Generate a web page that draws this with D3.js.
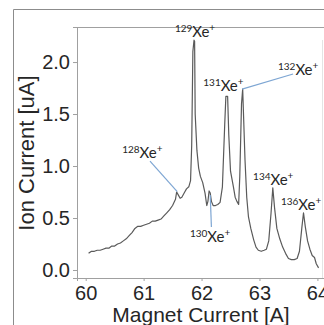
<!DOCTYPE html>
<html>
<head>
<meta charset="utf-8">
<script src="https://cdn.jsdelivr.net/npm/d3@7"></script>
<style>
  body { margin: 0; background: #fff; }
  svg { display: block; }
</style>
</head>
<body>
<svg id="chart" width="324" height="325"></svg>
<script>
// magnet current [A] and ion current [uA]
const current = [60.05, 60.10, 60.15, 60.20, 60.25, 60.30, 60.35, 60.40, 60.45, 60.50,
  60.55, 60.60, 60.65, 60.70, 60.75, 60.80, 60.85, 60.90, 60.95, 61.00,
  61.05, 61.10, 61.15, 61.20, 61.25, 61.30, 61.35, 61.40, 61.45, 61.50,
  61.55, 61.57, 61.60, 61.63, 61.66, 61.70, 61.74, 61.78, 61.81, 61.83,
  61.85, 61.87, 61.88, 61.89, 61.92, 61.95, 61.98, 62.02, 62.06, 62.09,
  62.11, 62.13, 62.15, 62.17, 62.20, 62.24, 62.28, 62.32, 62.36, 62.40,
  62.42, 62.45, 62.47, 62.50, 62.55, 62.58, 62.61, 62.64, 62.66, 62.69,
  62.71, 62.73, 62.75, 62.78, 62.81, 62.85, 62.90, 62.94, 62.98, 63.03,
  63.08, 63.12, 63.16, 63.20, 63.23, 63.26, 63.30, 63.35, 63.40, 63.45,
  63.50, 63.55, 63.60, 63.65, 63.69, 63.73, 63.76, 63.79, 63.83, 63.87,
  63.91, 63.95, 63.98, 64.02];
const ion = [0.16, 0.18, 0.18, 0.19, 0.19, 0.20, 0.21, 0.21, 0.23, 0.23,
  0.25, 0.26, 0.28, 0.30, 0.33, 0.36, 0.40, 0.42, 0.42, 0.43,
  0.44, 0.45, 0.47, 0.47, 0.48, 0.49, 0.52, 0.55, 0.58, 0.62,
  0.68, 0.75, 0.72, 0.69, 0.70, 0.74, 0.78, 0.80, 0.86, 1.20,
  2.10, 2.21, 2.20, 1.50, 1.15, 0.98, 0.90, 0.84, 0.74, 0.62,
  0.66, 0.76, 0.74, 0.66, 0.62, 0.62, 0.63, 0.65, 0.80, 1.40,
  1.67, 1.67, 1.30, 0.95, 0.80, 0.70, 0.66, 0.63, 0.90, 1.60,
  1.74, 1.40, 1.06, 0.70, 0.51, 0.40, 0.29, 0.22, 0.19, 0.18,
  0.19, 0.20, 0.28, 0.55, 0.79, 0.60, 0.40, 0.30, 0.22, 0.16,
  0.11, 0.10, 0.10, 0.11, 0.18, 0.40, 0.55, 0.42, 0.28, 0.20,
  0.14, 0.12, 0.06, 0.02];

const xTicks = [60, 61, 62, 63, 64];
const yTicks = [0, 0.5, 1.0, 1.5, 2.0];

// isotope labels: mass, label anchor (A, uA)
const isoMass = ['129', '131', '132', '128', '130', '134', '136'];
const isoX = [61.54, 62.03, 63.32, 60.63, 61.80, 62.89, 63.37];
const isoY = [2.24, 1.72, 1.875, 1.077, 0.269, 0.817, 0.577];

// pointer lines from label to peak
const pointers = [
  [[61.11, 1.048], [61.58, 0.753]],
  [[62.17, 0.413], [62.15, 0.72]],
  [[62.70, 1.74], [63.58, 1.885]]
];

const svg = d3.select('#chart');

const x = d3.scaleLinear().domain([59.85, 64.2]).range([77, 329]);
const y = d3.scaleLinear().domain([-0.077, 2.337]).range([278, 27]);

// outer figure frame
svg.append('path')
  .attr('d', 'M13.5,330 V9.5 H330')
  .attr('fill', 'none')
  .attr('stroke', '#8c8c8c')
  .attr('stroke-width', 1);

// plot box top + faint right edge
svg.append('line')
  .attr('x1', 77).attr('x2', 330).attr('y1', 27.5).attr('y2', 27.5)
  .attr('stroke', '#a0a0a0');
svg.append('line')
  .attr('x1', 322.5).attr('x2', 322.5).attr('y1', 40).attr('y2', 278)
  .attr('stroke', '#e4e4e4');

const xAxis = svg.append('g')
  .attr('transform', 'translate(0,278)')
  .call(d3.axisBottom(x).tickValues(xTicks).tickFormat(d3.format('d')).tickSize(3).tickPadding(5));

const yAxis = svg.append('g')
  .attr('transform', 'translate(77,0)')
  .call(d3.axisLeft(y).tickValues(yTicks).tickFormat(d3.format('.1f')).tickSize(4).tickPadding(3));

[xAxis, yAxis].forEach(g => {
  g.select('.domain').attr('stroke', '#a0a0a0');
  g.selectAll('.tick line').attr('stroke', '#a0a0a0');
  g.selectAll('.tick text')
    .attr('fill', '#262626')
    .style('font-family', '"Liberation Sans", Arial, sans-serif')
    .style('font-size', '20px');
});

svg.append('text')
  .attr('transform', 'translate(34,153) rotate(-90)')
  .attr('text-anchor', 'middle')
  .attr('fill', '#262626')
  .style('font-family', '"Liberation Sans", Arial, sans-serif')
  .style('font-size', '22px')
  .text('Ion Current [uA]');

svg.append('text')
  .attr('x', 201).attr('y', 322)
  .attr('text-anchor', 'middle')
  .attr('fill', '#262626')
  .style('font-family', '"Liberation Sans", Arial, sans-serif')
  .style('font-size', '21px')
  .text('Magnet Current [A]');

const line = d3.line()
  .x((d, i) => x(current[i]))
  .y((d, i) => y(ion[i]));

svg.append('path')
  .datum(ion)
  .attr('d', line)
  .attr('fill', 'none')
  .attr('stroke', '#5a5a5a')
  .attr('stroke-width', 1.2)
  .attr('stroke-linejoin', 'round');

svg.append('g')
  .selectAll('line')
  .data(pointers)
  .join('line')
  .attr('x1', d => x(d[0][0]))
  .attr('y1', d => y(d[0][1]))
  .attr('x2', d => x(d[1][0]))
  .attr('y2', d => y(d[1][1]))
  .attr('stroke', '#7ea6d3')
  .attr('stroke-width', 1.2);

const labels = svg.append('g')
  .selectAll('text')
  .data(isoMass)
  .join('text')
  .attr('x', (d, i) => x(isoX[i]))
  .attr('y', (d, i) => y(isoY[i]))
  .attr('fill', '#262626')
  .style('font-family', 'Lato, "Open Sans", sans-serif');

labels.append('tspan')
  .attr('dy', -5)
  .style('font-size', '10px')
  .text(d => d);
labels.append('tspan')
  .attr('dy', 5)
  .style('font-size', '15px')
  .text('Xe');
labels.append('tspan')
  .attr('dy', -6)
  .style('font-size', '10px')
  .text('+');
</script>
</body>
</html>
